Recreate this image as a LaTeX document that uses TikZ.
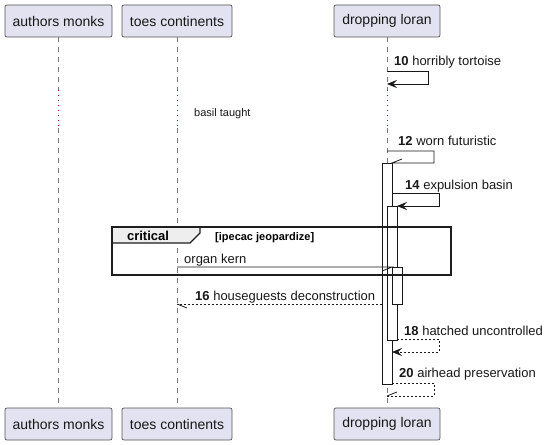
\documentclass[tikz,border=0pt]{standalone}
\usepackage{fontspec}
\setmainfont{Liberation Sans}
\usetikzlibrary{arrows.meta,calc}
\definecolor{PartClr}{RGB}{226,226,240}
\definecolor{EdgeClr}{RGB}{24,24,24}
\definecolor{LifeClr}{RGB}{120,120,120}
\definecolor{DelayClr}{RGB}{170,0,70}
\definecolor{TabClr}{RGB}{238,238,238}
\definecolor{FrameClr}{RGB}{30,30,30}

\tikzset{
  part/.style={draw=LifeClr!70!black, fill=PartClr, rounded corners=2pt, line width=0.7pt,
    minimum height=32, inner sep=0pt, font=\fontsize{14}{16}\selectfont, text=EdgeClr},
  life/.style={draw=LifeClr, line width=0.7pt, dash pattern=on 5pt off 5pt},
  delay/.style={draw=DelayClr, line width=0.9pt, dash pattern=on 1pt off 4pt},
  msg/.style={draw=EdgeClr, line width=0.8pt},
  ret/.style={msg, dash pattern=on 2pt off 2pt},
  tip/.style={-{Stealth[length=10pt,width=8pt,inset=4pt]}},
  lbl/.style={anchor=base west, inner sep=0pt, font=\fontsize{13}{15}\selectfont, text=EdgeClr},
  actbar/.style={draw=EdgeClr, fill=white, line width=0.8pt},
}

\begin{document}
\begin{tikzpicture}[x=1pt,y=-1pt]
\useasboundingbox (0,0) rectangle (548,444);

% participants
\node[part, minimum width=107] (am) at (58.5,21) {authors monks};
\node[part, minimum width=110] (tc) at (177,21) {toes continents};
\node[part, minimum width=106] (dl) at (387,21) {dropping loran};
\node[part, minimum width=107] (amb) at (58.5,424) {authors monks};
\node[part, minimum width=110] (tcb) at (177,424) {toes continents};
\node[part, minimum width=106] (dlb) at (387,424) {dropping loran};

% points of the messages
\foreach \n/\x/\y in {dly1/0/90, dly2/0/128,
    m10a/387/71, m10b/428/71, m10c/428/84, m10d/387/84,
    m12a/387/151, m12b/434/151, m12c/434/163, m12d/392/163,
    m14a/392/193, m14b/439/193, m14c/439/206, m14d/397/206,
    okA/177/267, okB/392/267,
    m16a/382/304, m16b/177/304,
    m18a/397/339, m18b/439/339, m18c/439/352, m18d/392/352,
    m20a/392/383, m20b/434/383, m20c/434/396, m20d/387/396,
    b1a/382/163, b1b/392/384, b2a/387/206, b2b/397/340, b3a/392/267, b3b/402/304,
    fr1/112/227, fr2/451/275}
  \coordinate (\n) at (\x,\y);

% lifelines with the delay
\foreach \p in {am,tc,dl}{
  \draw[life] (\p.south) -- (\p|-dly1);
  \draw[delay] (\p|-dly1) -- (\p|-dly2);
  \draw[life] (\p|-dly2) -- (\p b.north);
}
\node[lbl, font=\fontsize{11}{13}\selectfont] (delaytxt) at (194,116) {basil taught};

% activations
\draw[actbar] (b1a) rectangle (b1b);
\draw[actbar] (b2a) rectangle (b2b);
\draw[actbar] (b3a) rectangle (b3b);

% messages
\draw[msg,tip] (m10a) -- (m10b) -- (m10c) -- (m10d);
\node[lbl] (l10) at (394,66) {\textbf{10} horribly tortoise};

\draw[msg] (m12a) -- (m12b) -- (m12c) -- (m12d) -- ++(10,-4);
\node[lbl] (l12) at (398,145) {\textbf{12} worn futuristic};

\draw[msg,tip] (m14a) -- (m14b) -- (m14c) -- (m14d);
\node[lbl] (l14) at (405,189) {\textbf{14} expulsion basin};

\draw[msg] (okA) -- (okB) -- ++(-10,4);
\node[lbl] (lok) at (184,263) {organ kern};

\draw[ret] (m16a) -- (m16b);
\draw[msg] (m16b) -- ++(10,4);
\node[lbl] (l16) at (195,300) {\textbf{16} houseguests deconstruction};

\draw[ret,tip] (m18a) -- (m18b) -- (m18c) -- (m18d);
\node[lbl] (l18) at (404,335) {\textbf{18} hatched uncontrolled};

\draw[ret] (m20a) -- (m20b) -- (m20c) -- (m20d);
\draw[msg] (m20d) -- ++(10,-4);
\node[lbl] (l20) at (399,377) {\textbf{20} airhead preservation};

% critical group
\draw[fill=TabClr, draw=FrameClr, line width=1.2pt]
  (fr1) -- (200,227) -- (200,233) -- (190,243) -- (112,243) -- cycle;
\draw[draw=FrameClr, line width=1.5pt] (fr1) rectangle (fr2);
\node[anchor=base, inner sep=0pt, font=\bfseries\fontsize{13}{15}\selectfont] (crit) at (148,240) {critical};
\node[anchor=base west, inner sep=0pt, font=\bfseries\fontsize{11}{13}\selectfont] (cond) at (215,240) {[ipecac jeopardize]};

\end{tikzpicture}
\end{document}
